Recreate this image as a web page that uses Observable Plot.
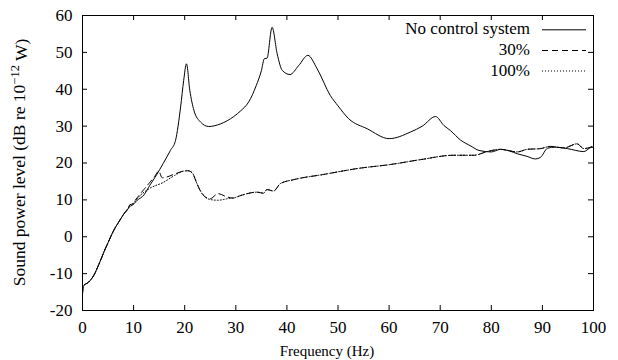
<!DOCTYPE html>
<html><head><meta charset="utf-8">
<script src="https://cdn.jsdelivr.net/npm/d3@7"></script>
<script src="https://cdn.jsdelivr.net/npm/@observablehq/plot@0.6"></script>
</head><body style="margin:0;background:#fff">
<div id="chart"></div>
<script>
// ---- data ----
const seriesNames = ["No control system", "30%", "100%"];

const freqNone = [0, 0.15, 1.2, 2.2, 3.2, 4.2, 5.1, 6.1, 7.1, 8.1, 9.0, 9.3, 9.6, 10.7, 12.0, 13.2, 14.5, 15.8, 17.2, 18.2, 19.2, 19.8, 20.35, 21.0, 21.8, 23.1, 24.7, 27.0, 29.6, 31.0, 32.5, 34.0, 35.0, 35.6, 36.1, 37.1, 38.1, 39.1, 40.6, 42.3, 44.1, 45.9, 48.5, 50.0, 52.1, 55.7, 60.0, 64.2, 66.5, 69.1, 70.7, 72.0, 74.0, 76.0, 77.6, 80.0, 81.8, 83.5, 85.1, 87.0, 88.6, 89.6, 91.0, 92.5, 94.9, 98.1, 99.7, 100];
const levelNone = [-15.5, -13.4, -12.3, -10.5, -7.5, -4.1, -1.3, 1.7, 4.0, 6.2, 7.8, 8.7, 8.5, 9.9, 11.3, 14.0, 16.8, 19.9, 23.4, 26.1, 35.2, 42.4, 46.9, 39.7, 34.3, 31.1, 29.9, 30.6, 32.6, 34.2, 36.5, 41.0, 45.0, 48.3, 48.4, 56.8, 49.6, 45.1, 44.0, 46.4, 49.2, 45.6, 38.3, 35.5, 32.0, 29.3, 26.6, 28.4, 30.0, 32.6, 30.2, 28.8, 26.2, 24.6, 23.4, 23.0, 23.7, 23.3, 22.5, 21.8, 21.1, 21.5, 24.0, 24.3, 23.9, 23.1, 24.3, 24.0];

const freq30 = [0, 0.15, 1.2, 2.2, 3.2, 4.2, 5.1, 6.1, 7.1, 8.1, 9.0, 9.3, 9.6, 10.7, 12.0, 13.2, 14.2, 14.9, 15.6, 16.5, 18.0, 19.8, 20.6, 21.5, 22.4, 23.4, 25.0, 26.5, 28.3, 29.5, 31.0, 34.2, 35.4, 36.1, 37.4, 38.7, 41.4, 47.2, 53.8, 60.3, 66.1, 72.7, 76.6, 79.2, 81.8, 85.1, 87.0, 89.6, 91.6, 94.2, 96.8, 98.1, 100];
const level30 = [-15.5, -13.4, -12.3, -10.5, -7.5, -4.1, -1.3, 1.7, 4.0, 6.2, 7.8, 8.7, 8.8, 10.6, 12.8, 14.8, 16.5, 17.8, 16.0, 16.2, 17.0, 17.8, 17.9, 17.3, 14.4, 11.7, 10.3, 11.7, 10.8, 10.5, 11.2, 12.1, 11.8, 12.8, 12.4, 14.4, 15.5, 16.9, 18.5, 19.6, 20.9, 22.1, 22.1, 23.1, 23.7, 23.0, 23.7, 23.9, 24.5, 24.1, 25.2, 23.9, 24.6];

const freq100 = [0, 0.15, 1.2, 2.2, 3.2, 4.2, 5.1, 6.1, 7.1, 8.1, 9.0, 9.5, 11.0, 13.0, 15.9, 18.0, 19.8, 20.6, 21.5, 22.4, 23.4, 25.0, 26.5, 28.3, 29.5, 31.0, 34.2, 35.4, 36.1, 37.4, 38.7, 41.4, 47.2, 53.8, 60.3, 66.1, 72.7, 76.6, 79.2, 81.8, 85.1, 87.0, 89.6, 91.6, 94.2, 96.8, 98.1, 100];
const level100 = [-15.5, -13.4, -12.3, -10.5, -7.5, -4.1, -1.3, 1.7, 4.0, 6.2, 7.8, 8.3, 10.8, 13.0, 14.8, 16.6, 17.8, 17.9, 17.3, 14.4, 11.7, 10.1, 9.9, 10.3, 10.5, 11.2, 12.1, 11.8, 12.8, 12.4, 14.4, 15.5, 16.9, 18.5, 19.6, 20.9, 22.1, 22.1, 23.1, 23.7, 23.0, 23.7, 23.9, 24.5, 24.1, 25.2, 23.9, 24.6];

const xTicks = [0, 10, 20, 30, 40, 50, 60, 70, 80, 90, 100];
const yTicks = [-20, -10, 0, 10, 20, 30, 40, 50, 60];

// ---- layout ----
const W = 618, H = 360, mL = 82, mR = 25, mT = 15, mB = 50;
const innerW = W - mL - mR, innerH = H - mT - mB;
const SERIF = "Liberation Serif";
const rows = (f, v, s) => f.map((x, i) => ({f: x, v: v[i], s}));
const dashes = ["none", "6,4", "1,2"];

const chart = Plot.plot({
  width: W, height: H,
  marginLeft: mL, marginRight: mR, marginTop: mT, marginBottom: mB,
  x: {domain: [0, 100]},
  y: {domain: [-20, 60]},
  marks: [
    Plot.axisX(xTicks, {tickSize: 0, tickPadding: 10, tickFormat: d => String(d), label: null, fontFamily: SERIF, fontSize: 17}),
    Plot.axisY(yTicks, {tickSize: 0, tickPadding: 10, tickFormat: d => String(d), label: null, fontFamily: SERIF, fontSize: 17}),
    Plot.tickX(xTicks, {x: d => d, insetTop: innerH - 5, stroke: "black"}),
    Plot.tickX(xTicks, {x: d => d, insetBottom: innerH - 5, stroke: "black"}),
    Plot.tickY(yTicks, {y: d => d, insetRight: innerW - 5, stroke: "black"}),
    Plot.tickY(yTicks, {y: d => d, insetLeft: innerW - 5, stroke: "black"}),
    Plot.line(rows(freq100, level100, seriesNames[2]), {x: "f", y: "v", stroke: "black", strokeWidth: 1, strokeDasharray: dashes[2], curve: "monotone-x"}),
    Plot.line(rows(freq30, level30, seriesNames[1]), {x: "f", y: "v", stroke: "black", strokeWidth: 1, strokeDasharray: dashes[1], curve: "monotone-x"}),
    Plot.line(rows(freqNone, levelNone, seriesNames[0]), {x: "f", y: "v", stroke: "black", strokeWidth: 1, curve: "monotone-x"}),
    Plot.frame({stroke: "black", strokeWidth: 1})
  ]
});

const svg = d3.select(chart);
svg.attr("font-family", SERIF);
svg.selectAll("text").attr("font-family", SERIF).attr("fill", "black");

// legend (top right, inside frame)
const legBase = [34.3, 55, 75.5];
seriesNames.forEach((name, i) => {
  svg.append("text").attr("x", 530).attr("y", legBase[i])
    .attr("text-anchor", "end").attr("font-family", SERIF).attr("font-size", 17)
    .attr("fill", "black").text(name);
  const ln = svg.append("line").attr("x1", 542).attr("x2", 586)
    .attr("y1", legBase[i] - 4.5).attr("y2", legBase[i] - 4.5)
    .attr("stroke", "black").attr("stroke-width", 1);
  if (dashes[i] !== "none") ln.attr("stroke-dasharray", dashes[i]);
});

// x-axis label
svg.append("text").attr("x", 327).attr("y", 355.7)
  .attr("text-anchor", "middle").attr("font-family", SERIF).attr("font-size", 15)
  .attr("fill", "black").text("Frequency (Hz)");

// y-axis label with superscript
const yl = svg.append("text")
  .attr("transform", `translate(25,${mT + innerH / 2}) rotate(-90)`)
  .attr("text-anchor", "middle").attr("font-family", SERIF).attr("font-size", 17.5)
  .attr("fill", "black");
yl.append("tspan").text("Sound power level (dB re 10");
yl.append("tspan").attr("dy", "-0.45em").attr("font-size", 12.5).text("\u221212");
yl.append("tspan").attr("dy", "0.45em").text(" W)");

document.getElementById("chart").appendChild(chart);
</script>
</body></html>
